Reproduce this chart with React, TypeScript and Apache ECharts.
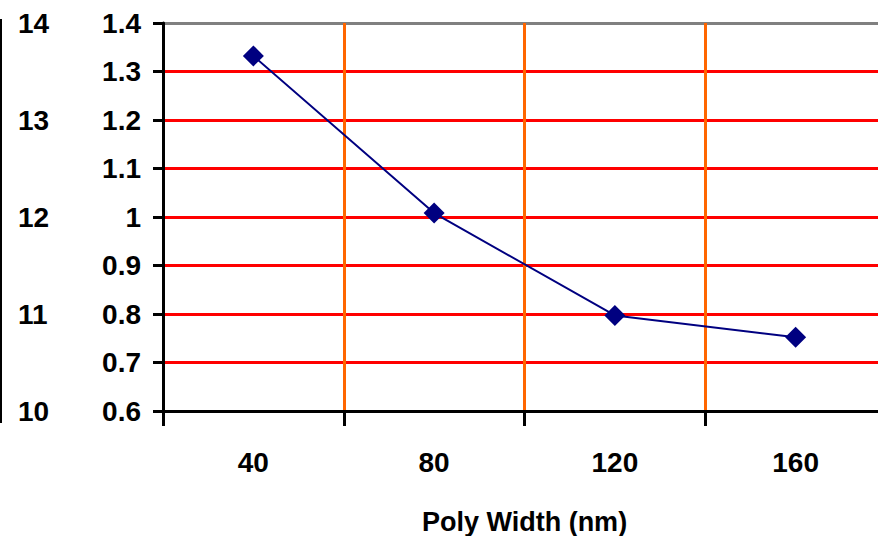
import React, { useEffect, useRef } from "react";
import * as echarts from "echarts";

const categories = ["40", "80", "120", "160"];
const values = [1.332, 1.008, 0.797, 0.752];
const leftAxisMin = 10;
const leftAxisMax = 14;

export default function App() {
  const ref = useRef<HTMLDivElement>(null);
  useEffect(() => {
    if (!ref.current) return;
    const chart = echarts.init(ref.current, null, { renderer: "svg" });
    const font = "'Liberation Sans', Arial, sans-serif";
    chart.setOption({
      animation: false,
      backgroundColor: "#ffffff",
      grid: {
        left: 163,
        top: 23,
        width: 723,
        height: 388,
        show: false,
        containLabel: false,
        outerBoundsMode: "none",
      },
      xAxis: {
        type: "category",
        data: categories,
        boundaryGap: true,
        name: "Poly Width (nm)",
        nameLocation: "middle",
        nameGap: 97,
        nameTextStyle: { fontFamily: font, fontSize: 27, fontWeight: "bold", color: "#000", lineHeight: 27 },
        axisLine: { show: true, lineStyle: { color: "#000", width: 3 } },
        axisTick: { show: true, length: 15, lineStyle: { color: "#000", width: 3 } },
        axisLabel: { fontFamily: font, fontSize: 28, fontWeight: "bold", color: "#000", margin: 37 },
        splitLine: { show: true, lineStyle: { color: "#FF6600", width: 3 } },
      },
      yAxis: [
        {
          type: "value",
          min: 0.6,
          max: 1.4,
          interval: 0.1,
          position: "left",
          axisLine: { show: true, lineStyle: { color: "#000", width: 3 } },
          axisTick: { show: true, length: 10, lineStyle: { color: "#000", width: 3 } },
          axisLabel: { fontFamily: font, fontSize: 28, fontWeight: "bold", color: "#000", margin: 22 },
          splitLine: {
            show: true,
            lineStyle: {
              color: ["#000000", "#FF0000", "#FF0000", "#FF0000", "#FF0000", "#FF0000", "#FF0000", "#FF0000", "#808080"],
              width: 3,
            },
          },
        },
        {
          type: "value",
          min: leftAxisMin,
          max: leftAxisMax,
          interval: 1,
          position: "left",
          offset: 162,
          axisLine: { show: false },
          axisTick: { show: false },
          splitLine: { show: false },
          axisLabel: {
            inside: true,
            margin: 17,
            fontFamily: font,
            fontSize: 28,
            fontWeight: "bold",
            color: "#000",
          },
        },
      ],
      graphic: [
        {
          type: "line",
          shape: { x1: 1, y1: 19, x2: 1, y2: 423 },
          style: { stroke: "#000", lineWidth: 2 },
        },
      ],
      series: [
        {
          type: "line",
          data: values,
          yAxisIndex: 0,
          symbol: "diamond",
          symbolSize: 21,
          itemStyle: { color: "#000080" },
          lineStyle: { color: "#000080", width: 2 },
          z: 5,
        },
      ],
    });
    return () => chart.dispose();
  }, []);
  return <div ref={ref} style={{ width: 878, height: 536, position: "absolute", left: 0, top: 0 }} />;
}
